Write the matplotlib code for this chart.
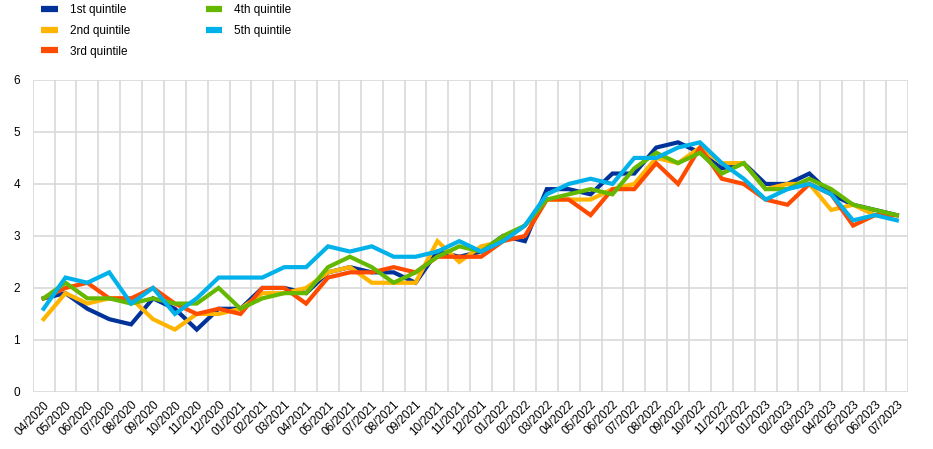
import numpy as np
import matplotlib
matplotlib.use("Agg")
import matplotlib.pyplot as plt

plt.rcParams['font.family'] = ['Liberation Sans', 'DejaVu Sans']

months = ['04/2020', '05/2020', '06/2020', '07/2020', '08/2020', '09/2020', '10/2020', '11/2020',
          '12/2020', '01/2021', '02/2021', '03/2021', '04/2021', '05/2021', '06/2021', '07/2021',
          '08/2021', '09/2021', '10/2021', '11/2021', '12/2021', '01/2022', '02/2022', '03/2022',
          '04/2022', '05/2022', '06/2022', '07/2022', '08/2022', '09/2022', '10/2022', '11/2022',
          '12/2022', '01/2023', '02/2023', '03/2023', '04/2023', '05/2023', '06/2023', '07/2023']

q1 = [1.8, 1.9, 1.6, 1.4, 1.3, 1.8, 1.6, 1.2, 1.6, 1.6, 2.0, 2.0, 1.9, 2.3, 2.4, 2.3, 2.3, 2.1, 2.7, 2.6,
      2.7, 3.0, 2.9, 3.9, 3.9, 3.8, 4.2, 4.2, 4.7, 4.8, 4.6, 4.3, 4.4, 4.0, 4.0, 4.2, 3.8, 3.6, 3.5, 3.4]
q2 = [1.4, 1.9, 1.7, 1.8, 1.8, 1.4, 1.2, 1.5, 1.5, 1.6, 1.9, 1.9, 2.0, 2.3, 2.4, 2.1, 2.1, 2.1, 2.9, 2.5,
      2.8, 2.9, 3.2, 3.7, 3.7, 3.7, 3.9, 4.0, 4.5, 4.4, 4.7, 4.4, 4.4, 3.9, 4.0, 4.0, 3.5, 3.6, 3.4, 3.4]
q3 = [1.8, 2.0, 2.1, 1.8, 1.8, 2.0, 1.7, 1.5, 1.6, 1.5, 2.0, 2.0, 1.7, 2.2, 2.3, 2.3, 2.4, 2.3, 2.6, 2.6,
      2.6, 2.9, 3.0, 3.7, 3.7, 3.4, 3.9, 3.9, 4.4, 4.0, 4.7, 4.1, 4.0, 3.7, 3.6, 4.0, 3.8, 3.2, 3.4, 3.4]
q4 = [1.8, 2.1, 1.8, 1.8, 1.7, 1.8, 1.7, 1.7, 2.0, 1.6, 1.8, 1.9, 1.9, 2.4, 2.6, 2.4, 2.1, 2.3, 2.6, 2.8,
      2.7, 3.0, 3.2, 3.7, 3.8, 3.9, 3.8, 4.3, 4.6, 4.4, 4.6, 4.2, 4.4, 3.9, 3.9, 4.1, 3.9, 3.6, 3.5, 3.4]
q5 = [1.6, 2.2, 2.1, 2.3, 1.7, 2.0, 1.5, 1.8, 2.2, 2.2, 2.2, 2.4, 2.4, 2.8, 2.7, 2.8, 2.6, 2.6, 2.7, 2.9,
      2.7, 2.9, 3.2, 3.8, 4.0, 4.1, 4.0, 4.5, 4.5, 4.7, 4.8, 4.4, 4.1, 3.7, 3.9, 4.0, 3.8, 3.3, 3.4, 3.3]

labels = ['1st quintile', '2nd quintile', '3rd quintile', '4th quintile', '5th quintile']
colors = ['#003299', '#FFB400', '#FF4B00', '#65B800', '#00B1EA']

fig = plt.figure(figsize=(9.33, 4.49), dpi=100)
ax = fig.add_axes([0.035, 0.127, 0.938, 0.695])

x = np.arange(len(months))
lines = []
for ys, lab, c in zip([q1, q2, q3, q4, q5], labels, colors):
    l, = ax.plot(x, ys, color=c, lw=3, label=lab, solid_joinstyle='miter')
    lines.append(l)

ax.set_xlim(-0.5, len(months) - 0.5)
ax.set_ylim(0, 6)
ax.set_yticks(range(0, 7))
ax.set_xticks(x)
ax.set_xticklabels(months, rotation=45, ha='right', rotation_mode='anchor', fontsize=8.5)
ax.set_xticks(np.arange(-0.5, len(months)), minor=True)
ax.tick_params(axis='x', which='both', length=0, pad=5)
ax.tick_params(axis='y', length=0, labelsize=8.5, pad=9)
ax.grid(axis='x', which='minor', color='#d9d9d9', lw=1.2)
ax.grid(axis='y', which='major', color='#d9d9d9', lw=1.2)
ax.set_axisbelow(True)
for s in ax.spines.values():
    s.set_visible(False)

# legend: 2 columns, first column 3 entries
leg = fig.legend(lines, labels, ncol=2, loc='upper left', bbox_to_anchor=(0.033, 1.015),
                 frameon=False, fontsize=8.5, handlelength=1.4, handletextpad=1.0,
                 columnspacing=6.4, labelspacing=0.75)
for h in leg.legend_handles:
    h.set_linewidth(4.5)
    h.set_solid_capstyle('butt')

fig.savefig('out.png', dpi=100)
